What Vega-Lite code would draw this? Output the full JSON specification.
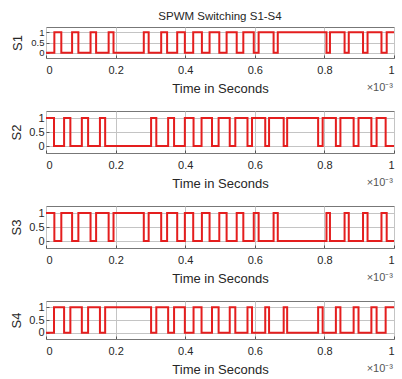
{
  "$schema": "https://vega.github.io/schema/vega-lite/v6.json",
  "padding": {"left": 10, "top": 10, "right": 2, "bottom": 0},
  "config": {
    "font": "Liberation Sans",
    "view": {"stroke": "#777777", "strokeWidth": 1},
    "axis": {"grid": true, "gridColor": "#c4c4c4", "gridWidth": 1, "domain": false, "tickColor": "#555555", "tickSize": -3, "labelFontSize": 11, "labelColor": "#262626", "titleFontSize": 13, "titleFontWeight": "normal", "titleColor": "#262626", "labelFont": "Liberation Sans", "titleFont": "Liberation Sans", "labelOverlap": false},
    "concat": {"spacing": 14}
  },
  "datasets": {
    "note": [{"label": "×10⁻³"}]
  },
  "data": {"values": [
    {"s":"S1","t":0,"v":0},{"s":"S1","t":0.024,"v":1},{"s":"S1","t":0.044,"v":0},{"s":"S1","t":0.075,"v":1},{"s":"S1","t":0.093,"v":0},{"s":"S1","t":0.128,"v":1},{"s":"S1","t":0.144,"v":0},{"s":"S1","t":0.180,"v":1},{"s":"S1","t":0.194,"v":0},{"s":"S1","t":0.281,"v":1},{"s":"S1","t":0.295,"v":0},{"s":"S1","t":0.331,"v":1},{"s":"S1","t":0.348,"v":0},{"s":"S1","t":0.377,"v":1},{"s":"S1","t":0.399,"v":0},{"s":"S1","t":0.423,"v":1},{"s":"S1","t":0.448,"v":0},{"s":"S1","t":0.470,"v":1},{"s":"S1","t":0.498,"v":0},{"s":"S1","t":0.519,"v":1},{"s":"S1","t":0.548,"v":0},{"s":"S1","t":0.567,"v":1},{"s":"S1","t":0.597,"v":0},{"s":"S1","t":0.611,"v":1},{"s":"S1","t":0.654,"v":0},{"s":"S1","t":0.666,"v":1},{"s":"S1","t":0.806,"v":0},{"s":"S1","t":0.816,"v":1},{"s":"S1","t":0.858,"v":0},{"s":"S1","t":0.870,"v":1},{"s":"S1","t":0.911,"v":0},{"s":"S1","t":0.924,"v":1},{"s":"S1","t":0.964,"v":0},{"s":"S1","t":0.979,"v":1},{"s":"S1","t":1.0,"v":1},
    {"s":"S2","t":0,"v":1},{"s":"S2","t":0.023,"v":0},{"s":"S2","t":0.052,"v":1},{"s":"S2","t":0.070,"v":0},{"s":"S2","t":0.103,"v":1},{"s":"S2","t":0.121,"v":0},{"s":"S2","t":0.155,"v":1},{"s":"S2","t":0.170,"v":0},{"s":"S2","t":0.302,"v":1},{"s":"S2","t":0.317,"v":0},{"s":"S2","t":0.351,"v":1},{"s":"S2","t":0.368,"v":0},{"s":"S2","t":0.399,"v":1},{"s":"S2","t":0.424,"v":0},{"s":"S2","t":0.447,"v":1},{"s":"S2","t":0.477,"v":0},{"s":"S2","t":0.496,"v":1},{"s":"S2","t":0.528,"v":0},{"s":"S2","t":0.544,"v":1},{"s":"S2","t":0.579,"v":0},{"s":"S2","t":0.592,"v":1},{"s":"S2","t":0.630,"v":0},{"s":"S2","t":0.641,"v":1},{"s":"S2","t":0.683,"v":0},{"s":"S2","t":0.693,"v":1},{"s":"S2","t":0.782,"v":0},{"s":"S2","t":0.795,"v":1},{"s":"S2","t":0.833,"v":0},{"s":"S2","t":0.846,"v":1},{"s":"S2","t":0.884,"v":0},{"s":"S2","t":0.898,"v":1},{"s":"S2","t":0.935,"v":0},{"s":"S2","t":0.950,"v":1},{"s":"S2","t":0.976,"v":0},{"s":"S2","t":1.0,"v":0},
    {"s":"S3","t":0,"v":1},{"s":"S3","t":0.024,"v":0},{"s":"S3","t":0.044,"v":1},{"s":"S3","t":0.075,"v":0},{"s":"S3","t":0.093,"v":1},{"s":"S3","t":0.128,"v":0},{"s":"S3","t":0.144,"v":1},{"s":"S3","t":0.180,"v":0},{"s":"S3","t":0.194,"v":1},{"s":"S3","t":0.281,"v":0},{"s":"S3","t":0.295,"v":1},{"s":"S3","t":0.331,"v":0},{"s":"S3","t":0.348,"v":1},{"s":"S3","t":0.377,"v":0},{"s":"S3","t":0.399,"v":1},{"s":"S3","t":0.423,"v":0},{"s":"S3","t":0.448,"v":1},{"s":"S3","t":0.470,"v":0},{"s":"S3","t":0.498,"v":1},{"s":"S3","t":0.519,"v":0},{"s":"S3","t":0.548,"v":1},{"s":"S3","t":0.567,"v":0},{"s":"S3","t":0.597,"v":1},{"s":"S3","t":0.611,"v":0},{"s":"S3","t":0.654,"v":1},{"s":"S3","t":0.666,"v":0},{"s":"S3","t":0.806,"v":1},{"s":"S3","t":0.816,"v":0},{"s":"S3","t":0.858,"v":1},{"s":"S3","t":0.870,"v":0},{"s":"S3","t":0.911,"v":1},{"s":"S3","t":0.924,"v":0},{"s":"S3","t":0.964,"v":1},{"s":"S3","t":0.979,"v":0},{"s":"S3","t":1.0,"v":0},
    {"s":"S4","t":0,"v":0},{"s":"S4","t":0.023,"v":1},{"s":"S4","t":0.052,"v":0},{"s":"S4","t":0.070,"v":1},{"s":"S4","t":0.103,"v":0},{"s":"S4","t":0.121,"v":1},{"s":"S4","t":0.155,"v":0},{"s":"S4","t":0.170,"v":1},{"s":"S4","t":0.302,"v":0},{"s":"S4","t":0.317,"v":1},{"s":"S4","t":0.351,"v":0},{"s":"S4","t":0.368,"v":1},{"s":"S4","t":0.399,"v":0},{"s":"S4","t":0.424,"v":1},{"s":"S4","t":0.447,"v":0},{"s":"S4","t":0.477,"v":1},{"s":"S4","t":0.496,"v":0},{"s":"S4","t":0.528,"v":1},{"s":"S4","t":0.544,"v":0},{"s":"S4","t":0.579,"v":1},{"s":"S4","t":0.592,"v":0},{"s":"S4","t":0.630,"v":1},{"s":"S4","t":0.641,"v":0},{"s":"S4","t":0.683,"v":1},{"s":"S4","t":0.693,"v":0},{"s":"S4","t":0.782,"v":1},{"s":"S4","t":0.795,"v":0},{"s":"S4","t":0.833,"v":1},{"s":"S4","t":0.846,"v":0},{"s":"S4","t":0.884,"v":1},{"s":"S4","t":0.898,"v":0},{"s":"S4","t":0.935,"v":1},{"s":"S4","t":0.950,"v":0},{"s":"S4","t":0.976,"v":1},{"s":"S4","t":1.0,"v":1}
  ]},
  "vconcat": [
    {
      "title": {"text": "SPWM Switching S1-S4", "fontSize": 11.5, "fontWeight": "normal", "frame": "group", "anchor": "middle", "offset": 5, "color": "#262626", "font": "Liberation Sans"},
      "width": 348, "height": 31,
      "layer": [
        {
          "transform": [{"filter": "datum.s === 'S1'"}],
          "mark": {"type": "line", "interpolate": "step-after", "color": "#e41e1e", "strokeWidth": 2, "clip": true},
          "encoding": {
            "x": {"field": "t", "type": "quantitative", "scale": {"domain": [0, 1], "nice": false, "zero": false}, "axis": {"values": [0, 0.2, 0.4, 0.6, 0.8, 1], "format": "~g", "title": "Time in Seconds", "labelPadding": 9, "titlePadding": 7, "labelOverlap": false}},
            "y": {"field": "v", "type": "quantitative", "scale": {"domain": [-0.25, 1.25], "nice": false, "zero": false}, "axis": {"values": [0, 0.5, 1], "format": "~g", "title": "S1", "labelPadding": 5, "titlePadding": 6, "labelOverlap": false, "labelFontSize": 9.5}}
          }
        },
        {
          "data": {"name": "note"},
          "mark": {"type": "text", "align": "right", "baseline": "middle", "dy": 30, "dx": -1, "fontSize": 11, "color": "#555555"},
          "encoding": {
            "x": {"datum": 1, "type": "quantitative", "axis": {"values": [0, 0.2, 0.4, 0.6, 0.8, 1], "format": "~g", "title": "Time in Seconds", "labelPadding": 9, "titlePadding": 7, "labelOverlap": false}},
            "y": {"datum": -0.25, "type": "quantitative", "axis": {"values": [0, 0.5, 1], "format": "~g", "title": "S1", "labelPadding": 5, "titlePadding": 6, "labelOverlap": false, "labelFontSize": 9.5}},
            "text": {"field": "label"}
          }
        }
      ]
    },
    {
      "width": 348, "height": 42,
      "layer": [
        {
          "transform": [{"filter": "datum.s === 'S2'"}],
          "mark": {"type": "line", "interpolate": "step-after", "color": "#e41e1e", "strokeWidth": 2, "clip": true},
          "encoding": {
            "x": {"field": "t", "type": "quantitative", "scale": {"domain": [0, 1], "nice": false, "zero": false}, "axis": {"values": [0, 0.2, 0.4, 0.6, 0.8, 1], "format": "~g", "title": "Time in Seconds", "labelPadding": 9, "titlePadding": 7, "labelOverlap": false}},
            "y": {"field": "v", "type": "quantitative", "scale": {"domain": [-0.25, 1.25], "nice": false, "zero": false}, "axis": {"values": [0, 0.5, 1], "format": "~g", "title": "S2", "labelPadding": 5, "titlePadding": 5, "labelOverlap": false}}
          }
        },
        {
          "data": {"name": "note"},
          "mark": {"type": "text", "align": "right", "baseline": "middle", "dy": 30, "dx": -1, "fontSize": 11, "color": "#555555"},
          "encoding": {
            "x": {"datum": 1, "type": "quantitative", "axis": {"values": [0, 0.2, 0.4, 0.6, 0.8, 1], "format": "~g", "title": "Time in Seconds", "labelPadding": 9, "titlePadding": 7, "labelOverlap": false}},
            "y": {"datum": -0.25, "type": "quantitative", "axis": {"values": [0, 0.5, 1], "format": "~g", "title": "S2", "labelPadding": 5, "titlePadding": 5, "labelOverlap": false}},
            "text": {"field": "label"}
          }
        }
      ]
    },
    {
      "width": 348, "height": 42,
      "layer": [
        {
          "transform": [{"filter": "datum.s === 'S3'"}],
          "mark": {"type": "line", "interpolate": "step-after", "color": "#e41e1e", "strokeWidth": 2, "clip": true},
          "encoding": {
            "x": {"field": "t", "type": "quantitative", "scale": {"domain": [0, 1], "nice": false, "zero": false}, "axis": {"values": [0, 0.2, 0.4, 0.6, 0.8, 1], "format": "~g", "title": "Time in Seconds", "labelPadding": 9, "titlePadding": 7, "labelOverlap": false}},
            "y": {"field": "v", "type": "quantitative", "scale": {"domain": [-0.25, 1.25], "nice": false, "zero": false}, "axis": {"values": [0, 0.5, 1], "format": "~g", "title": "S3", "labelPadding": 5, "titlePadding": 5, "labelOverlap": false}}
          }
        },
        {
          "data": {"name": "note"},
          "mark": {"type": "text", "align": "right", "baseline": "middle", "dy": 30, "dx": -1, "fontSize": 11, "color": "#555555"},
          "encoding": {
            "x": {"datum": 1, "type": "quantitative", "axis": {"values": [0, 0.2, 0.4, 0.6, 0.8, 1], "format": "~g", "title": "Time in Seconds", "labelPadding": 9, "titlePadding": 7, "labelOverlap": false}},
            "y": {"datum": -0.25, "type": "quantitative", "axis": {"values": [0, 0.5, 1], "format": "~g", "title": "S3", "labelPadding": 5, "titlePadding": 5, "labelOverlap": false}},
            "text": {"field": "label"}
          }
        }
      ]
    },
    {
      "width": 348, "height": 38,
      "layer": [
        {
          "transform": [{"filter": "datum.s === 'S4'"}],
          "mark": {"type": "line", "interpolate": "step-after", "color": "#e41e1e", "strokeWidth": 2, "clip": true},
          "encoding": {
            "x": {"field": "t", "type": "quantitative", "scale": {"domain": [0, 1], "nice": false, "zero": false}, "axis": {"values": [0, 0.2, 0.4, 0.6, 0.8, 1], "format": "~g", "title": "Time in Seconds", "labelPadding": 9, "titlePadding": 7, "labelOverlap": false}},
            "y": {"field": "v", "type": "quantitative", "scale": {"domain": [-0.25, 1.25], "nice": false, "zero": false}, "axis": {"values": [0, 0.5, 1], "format": "~g", "title": "S4", "labelPadding": 5, "titlePadding": 5, "labelOverlap": false}}
          }
        },
        {
          "data": {"name": "note"},
          "mark": {"type": "text", "align": "right", "baseline": "middle", "dy": 30, "dx": -1, "fontSize": 11, "color": "#555555"},
          "encoding": {
            "x": {"datum": 1, "type": "quantitative", "axis": {"values": [0, 0.2, 0.4, 0.6, 0.8, 1], "format": "~g", "title": "Time in Seconds", "labelPadding": 9, "titlePadding": 7, "labelOverlap": false}},
            "y": {"datum": -0.25, "type": "quantitative", "axis": {"values": [0, 0.5, 1], "format": "~g", "title": "S4", "labelPadding": 5, "titlePadding": 5, "labelOverlap": false}},
            "text": {"field": "label"}
          }
        }
      ]
    }
  ]
}
